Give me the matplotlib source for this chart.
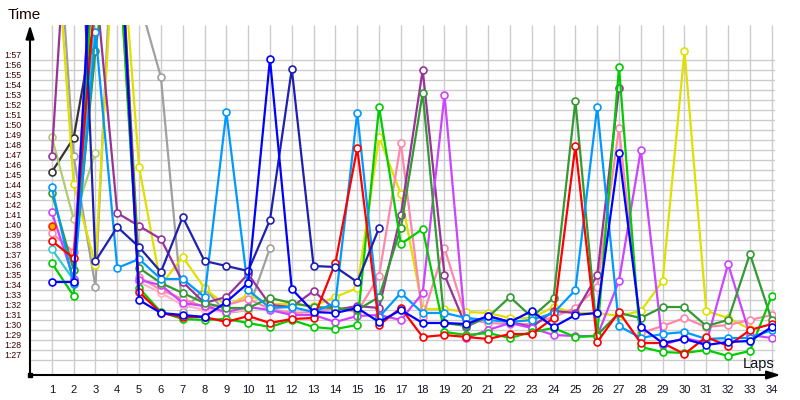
import numpy as np
import matplotlib
matplotlib.use('Agg')
import matplotlib.pyplot as plt
from matplotlib.transforms import ScaledTranslation

N = None
laps = list(range(1, 35))

# lap times in seconds (values above ~120 run off the top of the chart)
red = [98.9, 97.2, 124, 135, 93.8, 91.7, 91.3, 91.3, 90.8, 91.4,
       90.7, 91.1, 91.2, 96.7, 108.2, 90.5, 92.2, 89.3, 89.5, 89.3,
       89.1, 89.6, 89.6, 91.2, 108.4, 88.8, 91.8, 88.7, 88.7, 87.6,
       89.3, 88.4, 90.0, 90.6]
blue = [94.8, 94.8, 135, 135, 93.0, 91.7, 91.5, 91.3, 92.8, 94.7,
        117.1, 94.1, 91.8, 91.7, 92.2, 90.8, 92.0, 90.7, 90.7, 90.6,
        91.4, 90.8, 91.9, 90.3, 91.5, 91.7, 107.7, 90.3, 88.7, 89.1,
        88.5, 88.8, 88.9, 90.3]
navy = [N, 150, 96.9, 100.3, 98.3, 95.8, 101.3, 96.9, 96.4, 95.9,
        101.0, 116.1, 96.4, 96.3, 94.8, 100.2]
sky = [104.3, 94.6, 119.8, 96.2, 97.1, 95.1, 95.1, 93.3, 111.8, 94.0,
       92.2, 92.3, 91.8, 92.7, 111.7, 91.3, 93.7, 91.7, 91.7, 91.2,
       91.0, 90.8, 91.0, 91.7, 94.0, 112.3, 90.4, 89.2, 89.6, 89.8,
       89.1, 89.2, 89.2, 90.0]
green = [96.7, 93.4, 130, 130, 94.2, 91.8, 91.1, 91.0, 91.1, 90.7,
         90.3, 91.0, 90.3, 90.1, 90.5, 112.3, 98.6, 100.1, 89.8, 89.5,
         89.7, 89.2, 89.8, 90.2, 89.3, 89.4, 116.3, 88.3, 87.8, 87.7,
         88.0, 87.4, 87.9, 93.4]
dkgreen = [103.7, 96.0, 117.9, 135, 96.2, 94.7, 93.7, 92.7, 92.2, 92.2,
           93.2, 92.7, 92.3, 92.2, 92.0, 93.3, 100.2, 113.7, 90.7, 90.4,
           91.3, 93.3, 91.3, 93.2, 112.9, 89.5, 91.7, 91.2, 92.3, 92.3,
           90.4, 91.0, 97.6, 91.0]
yellow = [136, 104.6, 96.5, 135, 106.3, 94.5, 97.3, 94.2, 92.4, 93.5,
          92.6, 92.6, 92.4, 93.3, 94.2, 109.3, 103.6, 92.1, 92.1, 91.8,
          91.7, 91.2, 91.2, 92.3, 91.7, 91.7, 91.4, 91.9, 94.9, 117.9,
          91.9, 91.2, 90.1]
mauve = [107.4, 142, 125, 101.7, 100.4, 99.1, 94.8, 92.7, 93.3, 95.6,
         92.5, 92.3, 93.9, 92.0, 92.4, 92.2, 101.5, 116.0, 95.5, 90.3,
         91.4, 90.8, 90.3, 91.9, 91.7, 95.5, 114.2]
magenta = [101.8, 95.1, 135, 135, 95.0, 94.5, 92.7, 92.4, 91.8, 92.3,
           92.0, 91.5, 91.5, 90.8, 91.4, 91.5, 91.0, 93.7, 113.5, 89.2,
           90.0, 90.7, 90.2, 89.5, 89.4, 89.4, 94.9, 108.0, 88.5, 89.2,
           88.7, 96.6, 89.5, 89.2]
pink = [99.7, 97.8, 130, 130, 95.3, 94.0, 93.1, 92.3, 92.5, 93.1,
        92.1, 91.7, 91.8, 92.2, 91.8, 95.4, 108.7, 91.3, 98.2, 91.1,
        90.7, 90.6, 90.6, 91.3, 92.2, 94.3, 110.2, 89.7, 90.4, 91.2,
        90.3, 90.5, 91.0, 91.5]
ltpink = [130, 130, 130, 130, 94.8, 93.7, 92.5, 92.0, 91.8, 92.0]
gray = [140, 107.4, 94.3, 140, 123, 115.3, 91.8, 94.2, 91.7, 92.0, 98.2]
black = [105.8, 109.2, 121.4]
ygreen = [109.3, 101.1, 107.7]
teal = [98.1, 95.0, 122.6]
orange = [100.4]

series = [
    (gray, '#a0a0a0'), (black, '#333333'), (ygreen, '#b0cc70'),
    (teal, '#33cccc'), (ltpink, '#ffb4c8'), (yellow, '#e0e000'),
    (pink, '#ff88aa'), (mauve, '#993399'), (magenta, '#cc44ff'),
    (dkgreen, '#339933'), (green, '#00cc00'), (sky, '#0099ff'),
    (red, '#ff0000'), (navy, '#2020b0'), (blue, '#0000ff'),
]

y_ticks = list(range(87, 118))
y_labels = [f"{t // 60}:{t % 60:02d}" for t in y_ticks]

fig = plt.figure(figsize=(8, 4), dpi=100)
ax = fig.add_axes([30 / 800, 25 / 400, 745 / 800, 350 / 400])
ax.set_xlim(0, 34.15)
ax.set_ylim(85.5, 120.5)

# grid
ax.hlines(y_ticks, 0, 34.15, color='#cccccc', lw=1, zorder=0)
ax.vlines(laps, 85.5, 120.5, color='#cccccc', lw=1, zorder=0)

for vals, col in series:
    y = np.array([np.nan if v is None else v for v in vals], dtype=float)
    ax.plot(laps[:len(y)], y, color=col, lw=1.6, marker='o', ms=5,
            mfc='white', mec=col, mew=1.2, solid_joinstyle='miter', zorder=2)
ax.plot([1], orange, 'o', ms=5, mfc='#ffaa00', mec='#ff2200', mew=1.2, zorder=3)

for s in ax.spines.values():
    s.set_visible(False)

ax.set_xticks(laps)
ax.set_xticklabels([str(n) for n in laps], fontsize=8, family='Liberation Sans',
                   color='#101020')
ax.set_yticks(y_ticks)
ax.set_yticklabels(y_labels, fontsize=6.3, family='Liberation Sans', color='#3c0000')
ax.tick_params(length=0)
ax.tick_params(axis='x', pad=7)
ax.tick_params(axis='y', pad=6)
off = ScaledTranslation(0, 5 / 100, fig.dpi_scale_trans)
for lbl in ax.get_yticklabels():
    lbl.set_transform(lbl.get_transform() + off)

# axes with arrows
ax.annotate('', xy=(0, 1.0), xytext=(0, 0), xycoords='axes fraction',
            arrowprops=dict(arrowstyle='-|>,head_length=0.8,head_width=0.25',
                            lw=1.5, color='black', shrinkA=0, shrinkB=0))
ax.annotate('', xy=(1.0075, 0), xytext=(0, 0), xycoords='axes fraction',
            arrowprops=dict(arrowstyle='-|>,head_length=0.8,head_width=0.25',
                            lw=1.5, color='black', shrinkA=0, shrinkB=0))
ax.plot([0], [85.5], 's', color='black', ms=3, clip_on=False, zorder=5)

fig.text(8 / 800, 1 - 15 / 400, 'Time', fontsize=11, family='Liberation Sans',
         color='#200000', va='center', ha='left')
fig.text(743 / 800, 1 - 364 / 400, 'Laps', fontsize=10.5, family='Liberation Sans',
         color='#101020', va='center', ha='left')

fig.savefig('out.png', dpi=100)
